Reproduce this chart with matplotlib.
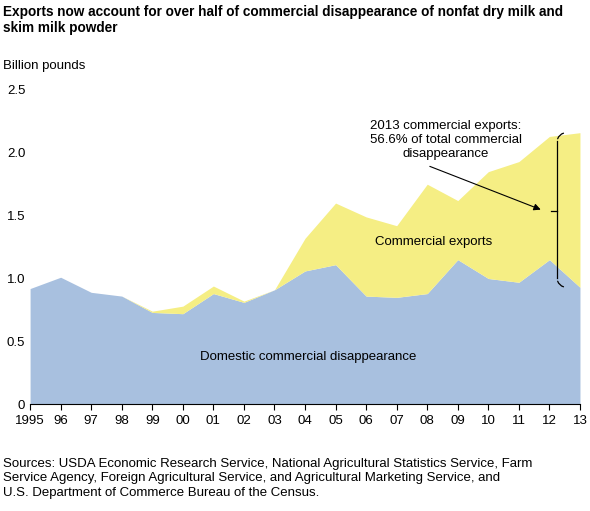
import matplotlib.pyplot as plt

years = list(range(1995, 2014))
tick_labels = ["1995"] + [f"{y % 100:02d}" for y in years[1:]]
domestic = [0.92, 1.01, 0.89, 0.86, 0.73, 0.72, 0.88, 0.81, 0.91, 1.06,
            1.11, 0.86, 0.85, 0.88, 1.15, 1.00, 0.97, 1.15, 0.93]
total = [0.92, 1.01, 0.89, 0.86, 0.74, 0.78, 0.94, 0.82, 0.91, 1.32,
         1.60, 1.49, 1.42, 1.75, 1.62, 1.85, 1.93, 2.13, 2.16]

plt.rcParams["font.family"] = ["Liberation Sans", "DejaVu Sans"]
fig = plt.figure(figsize=(5.9, 5.11), dpi=100)
ax = fig.add_axes([0.051, 0.209, 0.932, 0.615])

ax.fill_between(years, 0, domestic, color="#a8c0df", lw=0)
ax.fill_between(years, domestic, total, color="#f5ee84", lw=0)

ax.set_xlim(1995, 2013)
ax.set_ylim(0, 2.5)
ax.set_xticks(years)
ax.set_xticklabels(tick_labels, fontsize=9.5)
ax.set_yticks([0, 0.5, 1.0, 1.5, 2.0, 2.5])
ax.set_yticklabels(["0", "0.5", "1.0", "1.5", "2.0", "2.5"], fontsize=9.5)
for s in ["top", "right", "left"]:
    ax.spines[s].set_visible(False)
ax.tick_params(axis="y", length=0)
ax.tick_params(axis="x", direction="out", length=4)

ax.text(2004.1, 0.35, "Domestic commercial disappearance", ha="center", fontsize=9.5)
ax.text(2008.2, 1.27, "Commercial exports", ha="center", fontsize=9.5)
ax.text(2008.6, 2.1, "2013 commercial exports:\n56.6% of total commercial\ndisappearance",
        ha="center", va="center", fontsize=9.5, linespacing=1.2)
ax.annotate("", xy=(2011.8, 1.54), xytext=(2008.0, 1.9),
            arrowprops=dict(arrowstyle="-|>", color="black", lw=0.8))
# curly brace
kw = dict(color="black", lw=0.9)
ax.plot([2012.25, 2012.05], [1.54, 1.54], **kw)
ax.plot([2012.25, 2012.25], [1.0, 2.09], **kw)
ax.annotate("", xy=(2012.55, 2.16), xytext=(2012.25, 2.09),
            arrowprops=dict(arrowstyle="-", connectionstyle="arc3,rad=-0.4", **kw))
ax.annotate("", xy=(2012.55, 0.93), xytext=(2012.25, 1.0),
            arrowprops=dict(arrowstyle="-", connectionstyle="arc3,rad=0.4", **kw))

fig.text(0.005, 0.99, "Exports now account for over half of commercial disappearance of nonfat dry milk and\nskim milk powder",
         fontsize=9.8, fontweight="bold", va="top", linespacing=1.2)
fig.text(0.005, 0.865, "Billion pounds", fontsize=9.5)
fig.text(0.005, 0.03, "Sources: USDA Economic Research Service, National Agricultural Statistics Service, Farm\n"
         "Service Agency, Foreign Agricultural Service, and Agricultural Marketing Service, and\n"
         "U.S. Department of Commerce Bureau of the Census.", fontsize=9.5, linespacing=1.25)

fig.savefig("out.png", dpi=100)
